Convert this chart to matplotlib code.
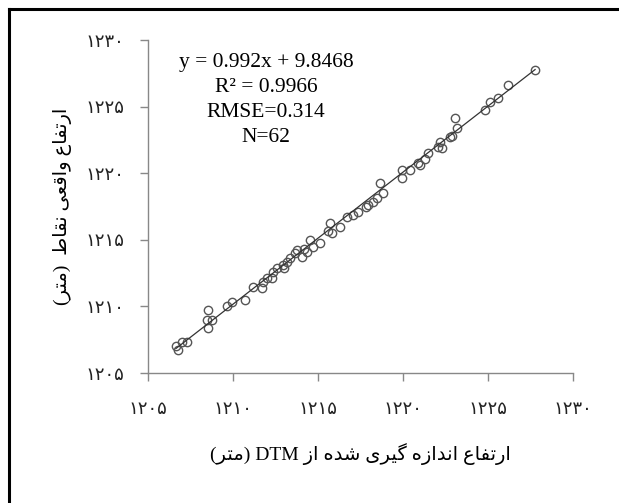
import re
import numpy as np
import matplotlib
matplotlib.use("Agg")
import matplotlib.pyplot as plt
from matplotlib.lines import Line2D

# elevation measured from DTM (x) vs real elevation of the points (y), metres
dtm = [1206.76, 1207.00, 1207.29, 1206.65,
       1208.53, 1208.47, 1208.76, 1208.53,
       1209.65, 1209.94, 1210.71,
       1211.18, 1211.71, 1211.76, 1212.29, 1212.00,
       1212.35, 1212.59, 1212.94, 1213.00, 1213.18, 1213.35, 1213.65, 1213.76,
       1214.06, 1214.20, 1214.35, 1214.53, 1214.71, 1215.12, 1215.60, 1215.71,
       1215.82, 1216.29, 1216.71,
       1217.06, 1217.35, 1217.80, 1217.94, 1218.24, 1218.47, 1218.65, 1218.82,
       1219.94, 1219.94, 1220.41, 1220.88, 1221.00, 1221.30, 1221.47,
       1222.06, 1222.18, 1222.29, 1222.76, 1222.90, 1223.06, 1223.18,
       1224.82, 1225.12, 1225.59, 1226.18, 1227.76]
real = [1206.73, 1207.33, 1207.33, 1207.03,
        1209.73, 1208.98, 1208.98, 1208.38,
        1210.03, 1210.33, 1210.48,
        1211.45, 1211.38, 1211.83, 1212.13, 1212.10,
        1212.58, 1212.88, 1213.10, 1212.90, 1213.33, 1213.63, 1214.00, 1214.23,
        1213.70, 1214.30, 1214.08, 1214.98, 1214.45, 1214.75, 1215.70, 1216.25,
        1215.50, 1215.95, 1216.70,
        1216.85, 1217.08, 1217.50, 1217.60, 1217.83, 1218.13, 1219.25, 1218.50,
        1220.23, 1219.63, 1220.23, 1220.75, 1220.60, 1221.10, 1221.50,
        1221.95, 1222.33, 1221.88, 1222.70, 1222.80, 1224.13, 1223.38,
        1224.73, 1225.33, 1225.63, 1226.60, 1227.73]

slope = 0.992
intercept = 9.8468
r2 = 0.9966
rmse = 0.314

ticks = [1205, 1210, 1215, 1220, 1225, 1230]
tick_labels = ["۱۲۰۵", "۱۲۱۰", "۱۲۱۵", "۱۲۲۰", "۱۲۲۵", "۱۲۳۰"]

xlabel = "ارتفاع اندازه گیری شده از DTM (متر)"
ylabel = "ارتفاع واقعی نقاط  (متر)"

# isolated, final, initial, medial presentation forms
FORMS = {
    "ا": ("\uFE8D", "\uFE8E", None, None),
    "ر": ("\uFEAD", "\uFEAE", None, None),
    "ز": ("\uFEAF", "\uFEB0", None, None),
    "د": ("\uFEA9", "\uFEAA", None, None),
    "و": ("\uFEED", "\uFEEE", None, None),
    "ت": ("\uFE95", "\uFE96", "\uFE97", "\uFE98"),
    "ف": ("\uFED1", "\uFED2", "\uFED3", "\uFED4"),
    "ع": ("\uFEC9", "\uFECA", "\uFECB", "\uFECC"),
    "ق": ("\uFED5", "\uFED6", "\uFED7", "\uFED8"),
    "ی": ("\uFBFC", "\uFBFD", "\uFBFE", "\uFBFF"),
    "ن": ("\uFEE5", "\uFEE6", "\uFEE7", "\uFEE8"),
    "ط": ("\uFEC1", "\uFEC2", "\uFEC3", "\uFEC4"),
    "م": ("\uFEE1", "\uFEE2", "\uFEE3", "\uFEE4"),
    "ه": ("\uFEE9", "\uFEEA", "\uFEEB", "\uFEEC"),
    "گ": ("\uFB92", "\uFB93", "\uFB94", "\uFB95"),
    "ش": ("\uFEB5", "\uFEB6", "\uFEB7", "\uFEB8"),
}


def persian(text):
    out = []
    for i, c in enumerate(text):
        if c not in FORMS:
            out.append(c)
            continue
        prev = text[i - 1] if i > 0 else ""
        nxt = text[i + 1] if i + 1 < len(text) else ""
        join_prev = prev in FORMS and FORMS[prev][2] is not None
        join_next = FORMS[c][2] is not None and nxt in FORMS
        iso, fin, ini, med = FORMS[c]
        if join_prev and join_next:
            out.append(med)
        elif join_prev:
            out.append(fin)
        elif join_next:
            out.append(ini)
        else:
            out.append(iso)
    s = "".join(out)[::-1]
    s = s.translate(str.maketrans("()", ")("))
    # latin runs keep left-to-right order
    return re.sub(r"[A-Za-z0-9.]+", lambda m: m.group(0)[::-1], s)


fonts = ["Liberation Serif", "DejaVu Sans"]
plt.rcParams["font.family"] = fonts

fig = plt.figure(figsize=(6.19, 5.03), dpi=100)
ax = fig.add_axes([0.239, 0.2584, 0.687, 0.662])

ax.plot(dtm, real, "o", mfc="none", mec="#555555", mew=1.0, ms=6)
xl = np.array([min(dtm), max(dtm)])
ax.plot(xl, slope * xl + intercept, color="#333333", lw=0.9)

ax.set_xlim(1205, 1230)
ax.set_ylim(1205, 1230)
ax.set_xticks(ticks)
ax.set_yticks(ticks)
ax.set_xticklabels(tick_labels, fontsize=13, color="#222222")
ax.set_yticklabels(tick_labels, fontsize=13, color="#222222")
ax.tick_params(direction="out", length=6, width=1, color="#888888")
ax.tick_params(axis="x", pad=14)
ax.tick_params(axis="y", pad=11)

for side in ["top", "right"]:
    ax.spines[side].set_visible(False)
for side in ["left", "bottom"]:
    ax.spines[side].set_color("#888888")
    ax.spines[side].set_linewidth(1.0)

ax.set_xlabel(persian(xlabel), fontsize=14, labelpad=18)
ax.set_ylabel(persian(ylabel), fontsize=14, labelpad=10)

stats = (f"y = {slope}x + {intercept}\n"
         f"R² = {r2}\n"
         f"RMSE={rmse}\n"
         f"N={len(dtm)}")
ax.text(0.278, 0.96, stats, transform=ax.transAxes, ha="center", va="top",
        fontsize=15.5, family="Liberation Serif", linespacing=1.42)

# outer frame (top and left edges)
fig.add_artist(Line2D([9 / 619, 1], [1 - 9 / 503, 1 - 9 / 503], color="black", lw=2.2))
fig.add_artist(Line2D([9 / 619, 9 / 619], [0, 1 - 9 / 503], color="black", lw=2.2))

fig.savefig("out.png", dpi=100)
